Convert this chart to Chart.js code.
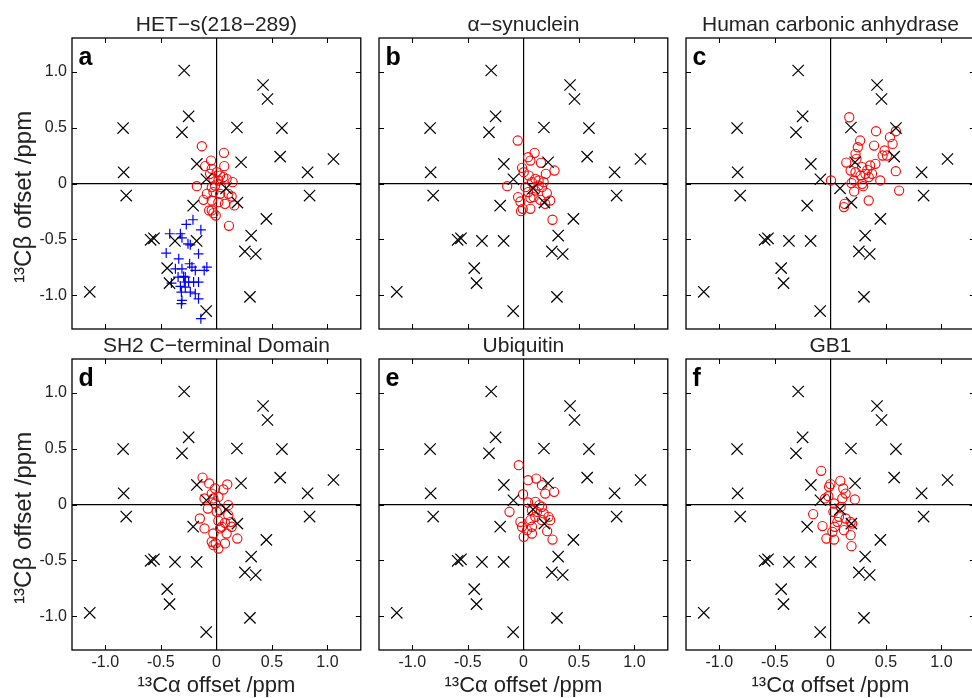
<!DOCTYPE html>
<html>
<head>
<meta charset="utf-8">
<script src="https://cdn.jsdelivr.net/npm/chart.js@4.4.1/dist/chart.umd.min.js"></script>
<style>
  html, body { margin: 0; padding: 0; background: #fff; width: 972px; height: 698px; overflow: hidden; }
  .panel { position: absolute; }
</style>
</head>
<body>
<div class="panel" style="left:0px;top:0px"><canvas id="pa" width="370" height="378"></canvas></div>
<div class="panel" style="left:307px;top:0px"><canvas id="pb" width="370" height="378"></canvas></div>
<div class="panel" style="left:614px;top:0px"><canvas id="pc" width="370" height="378"></canvas></div>
<div class="panel" style="left:0px;top:321px"><canvas id="pd" width="370" height="378"></canvas></div>
<div class="panel" style="left:307px;top:321px"><canvas id="pe" width="370" height="378"></canvas></div>
<div class="panel" style="left:614px;top:321px"><canvas id="pf" width="370" height="378"></canvas></div>
<script>
// Panel text
var panelTitles = ['HET\u2212s(218\u2212289)', '\u03b1\u2212synuclein', 'Human carbonic anhydrase',
                   'SH2 C\u2212terminal Domain', 'Ubiquitin', 'GB1'];
var panelLetters = ['a', 'b', 'c', 'd', 'e', 'f'];
var xTitle = '\u00b9\u00b3C\u03b1 offset /ppm';
var yTitle = '\u00b9\u00b3C\u03b2 offset /ppm    ';  // trailing spaces push the label down a bit, like the original

// Ticks (both axes)
var tickValues = [-1, -0.5, 0, 0.5, 1];
var tickLabels = ['-1.0', '-0.5', '0', '0.5', '1.0'];

// Reference set, black x, same in every panel  [Ca, Cb]
var refPoints = [[-0.29,1.01],[0.42,0.88],[0.46,0.755],[-0.25,0.60],[-0.84,0.495],[-0.31,0.457],
  [0.185,0.50],[0.59,0.495],[0.574,0.24],[1.054,0.219],[0.222,0.19],[-0.176,0.175],[-0.835,0.10],
  [0.821,0.10],[-0.812,-0.108],[0.839,-0.108],[-0.09,0.038],[0.087,-0.043],[0.189,-0.171],
  [-0.209,-0.198],[0.45,-0.316],[0.313,-0.465],[0.256,-0.607],[0.354,-0.63],[-0.592,-0.503],
  [-0.562,-0.49],[-0.373,-0.513],[-0.178,-0.513],[-0.443,-0.756],[-0.422,-0.89],[0.302,-1.013],
  [-1.14,-0.968],[-0.092,-1.14]];

// a: HET-s
var hetsRed = [[-0.131,0.333],[0.068,0.274],[-0.048,0.205],[-0.101,0.155],[0.071,0.155],[-0.042,0.131],
  [0.003,0.101],[0.033,0.071],[0.063,0.057],[-0.027,0.042],[0.018,0.027],[0.092,0.042],[0.146,0.012],
  [-0.176,-0.024],[-0.042,-0.033],[0.042,-0.033],[-0.027,-0.077],[0.033,-0.092],[0.107,-0.092],
  [0.137,-0.116],[-0.116,-0.146],[-0.042,-0.152],[0.018,-0.167],[0.077,-0.182],[0.161,-0.196],
  [-0.065,-0.241],[-0.027,-0.265],[-0.006,-0.286],[-0.042,-0.241],[0.113,-0.378],[-0.086,-0.092],
  [-0.012,-0.018],[-0.057,0.086]];
var hetsBlue = [[-0.211,-0.324],[-0.271,-0.366],[-0.140,-0.414],[-0.420,-0.449],[-0.324,-0.449],
  [-0.310,-0.485],[-0.256,-0.539],[-0.235,-0.548],[-0.452,-0.622],[-0.161,-0.628],[-0.339,-0.673],
  [-0.241,-0.717],[-0.220,-0.747],[-0.086,-0.747],[-0.369,-0.762],[-0.310,-0.762],[-0.190,-0.777],
  [-0.110,-0.777],[-0.345,-0.836],[-0.280,-0.836],[-0.250,-0.881],[-0.205,-0.881],[-0.161,-0.881],
  [-0.405,-0.890],[-0.324,-0.920],[-0.280,-0.926],[-0.315,-0.970],[-0.235,-0.970],[-0.190,-0.985],
  [-0.161,-1.030],[-0.310,-1.045],[-0.315,-1.074],[-0.140,-1.208],[-0.295,-0.830],[-0.289,-0.880]];

// b: alpha-synuclein
var synRed = [[-0.051,0.384],[0.101,0.274],[0.042,0.235],[0.063,0.205],[0.158,0.185],[-0.012,0.140],
  [0.202,0.086],[0.280,0.116],[0.003,0.101],[0.048,0.071],[0.107,0.042],[0.137,0.027],[0.077,0.012],
  [-0.146,-0.024],[0.167,-0.033],[0.107,-0.063],[0.211,-0.086],[0.042,-0.077],[-0.048,-0.122],
  [0.063,-0.128],[0.152,-0.146],[0.241,-0.152],[-0.027,-0.161],[0.196,-0.182],[-0.006,-0.226],
  [0.063,-0.226],[-0.021,-0.247],[0.262,-0.324],[0.018,-0.033],[0.137,-0.018],[0.182,0.012],
  [0.092,-0.122]];

// c: human carbonic anhydrase
var hcaRed = [[0.170,0.592],[0.411,0.467],[0.589,0.467],[0.268,0.384],[0.536,0.414],[0.560,0.354],
  [0.393,0.339],[0.247,0.324],[0.488,0.295],[0.226,0.265],[0.470,0.250],[0.509,0.250],[0.143,0.187],
  [0.405,0.176],[0.357,0.161],[0.286,0.146],[0.182,0.116],[0.226,0.101],[0.315,0.086],[0.375,0.086],
  [0.589,0.110],[0.271,0.071],[0.345,0.057],[0.449,0.027],[0.006,0.027],[0.190,0.003],[0.286,-0.003],
  [0.295,-0.024],[0.214,-0.071],[0.619,-0.063],[0.345,-0.152],[0.128,-0.182],[0.122,-0.211],
  [0.235,0.220],[0.211,0.027],[0.333,0.122]];

// d: SH2 C-terminal domain
var sh2Red = [[-0.125,0.241],[-0.065,0.188],[0.098,0.179],[-0.012,0.143],[0.063,0.134],[-0.107,0.054],
  [-0.027,0.054],[0.018,0.068],[-0.077,-0.036],[0.033,-0.051],[0.107,-0.006],[0.107,-0.095],
  [-0.149,-0.125],[0.018,-0.146],[0.077,-0.164],[0.131,-0.155],[0.137,-0.199],[-0.107,-0.214],
  [0.033,-0.214],[0.092,-0.259],[0.188,-0.304],[-0.027,-0.259],[-0.042,-0.333],[-0.006,-0.348],
  [0.018,-0.393],[0.077,-0.348],[-0.027,-0.363],[0.003,-0.065],[-0.012,0.009],[-0.042,0.098],
  [0.048,-0.199]];

// e: ubiquitin
var ubqRed = [[-0.042,0.351],[0.042,0.217],[0.116,0.232],[0.167,0.173],[0.196,0.098],[0.277,0.113],
  [-0.003,0.092],[0.042,0.018],[0.107,0.024],[0.143,-0.006],[-0.125,-0.065],[0.077,-0.051],
  [0.122,-0.065],[0.182,-0.080],[0.226,-0.110],[0.241,-0.140],[-0.027,-0.155],[0.063,-0.140],
  [-0.012,-0.199],[0.077,-0.199],[0.214,-0.238],[0.003,-0.289],[0.077,-0.259],[0.262,-0.313],
  [0.033,-0.229],[0.167,-0.021],[0.107,-0.110],[0.167,-0.140]];

// f: GB1
var gb1Red = [[-0.083,0.301],[0.0,0.182],[0.089,0.211],[0.116,0.143],[0.137,0.098],[0.220,0.045],
  [-0.018,0.074],[-0.048,0.054],[-0.155,-0.086],[0.033,0.009],[0.092,-0.021],[0.027,-0.065],
  [0.077,-0.110],[0.137,-0.125],[0.196,-0.170],[-0.071,-0.193],[0.039,-0.199],[-0.036,-0.304],
  [0.033,-0.313],[0.182,-0.274],[0.190,-0.372],[0.018,-0.244],[0.122,-0.229],[-0.012,0.158],
  [0.107,0.054],[0.182,-0.155],[0.063,-0.155]];

var panelRed = [hetsRed, synRed, hcaRed, sh2Red, ubqRed, gb1Red];
var canvasIds = ['pa', 'pb', 'pc', 'pd', 'pe', 'pf'];

var axisMin = -1.3, axisMax = 1.3;
var textColor = '#222';
var fontName = '"Liberation Sans", Arial, Helvetica, sans-serif';

function toXY(list) {
  return list.map(function (p) { return {x: p[0], y: p[1]}; });
}

// box + inward ticks on all four sides, and the panel letter
var framePlugin = {
  id: 'frame',
  afterDraw: function (chart, args, opts) {
    var ctx = chart.ctx, a = chart.chartArea;
    var xs = chart.scales.x, ys = chart.scales.y;
    var tl = 5;
    ctx.save();
    ctx.strokeStyle = '#000';
    ctx.lineWidth = 1.3;
    ctx.strokeRect(a.left, a.top, a.right - a.left, a.bottom - a.top);
    ctx.lineWidth = 1;
    ctx.beginPath();
    tickValues.forEach(function (v) {
      var px = Math.round(xs.getPixelForValue(v)) + 0.5;
      ctx.moveTo(px, a.bottom); ctx.lineTo(px, a.bottom - tl);
      ctx.moveTo(px, a.top); ctx.lineTo(px, a.top + tl);
      var py = Math.round(ys.getPixelForValue(v)) + 0.5;
      ctx.moveTo(a.left, py); ctx.lineTo(a.left + tl, py);
      ctx.moveTo(a.right, py); ctx.lineTo(a.right - tl, py);
    });
    ctx.stroke();
    ctx.fillStyle = '#000';
    ctx.font = 'bold 25px ' + fontName;
    ctx.textBaseline = 'alphabetic';
    ctx.textAlign = 'left';
    ctx.fillText(opts.letter, a.left + 6.5, a.top + 26.7);
    ctx.restore();
  }
};

function makePanel(i) {
  var row = Math.floor(i / 3), col = i % 3;
  var showX = row === 1, showY = col === 0;
  var datasets = [
    {
      data: toXY(refPoints),
      pointStyle: 'crossRot',
      pointRadius: 8,
      borderColor: '#000',
      borderWidth: 1.2,
      showLine: false
    },
    {
      data: toXY(panelRed[i]),
      pointStyle: 'circle',
      pointRadius: 4.6,
      borderColor: '#ff0000',
      backgroundColor: 'rgba(0,0,0,0)',
      borderWidth: 1.1,
      showLine: false
    }
  ];
  if (i === 0) {
    datasets.push({
      data: toXY(hetsBlue),
      pointStyle: 'cross',
      pointRadius: 5,
      borderColor: '#0000ff',
      borderWidth: 1.2,
      showLine: false
    });
  }
  var zeroGrid = {
    drawTicks: false,
    lineWidth: 1.2,
    color: function (c) { return c.tick && c.tick.value === 0 ? '#000' : 'rgba(0,0,0,0)'; }
  };
  return new Chart(document.getElementById(canvasIds[i]), {
    type: 'scatter',
    data: {datasets: datasets},
    plugins: [framePlugin],
    options: {
      responsive: false,
      animation: false,
      devicePixelRatio: 1,
      layout: {padding: {left: 0, right: 7, top: 0, bottom: 0}},
      plugins: {
        legend: {display: false},
        tooltip: {enabled: false},
        title: {
          display: true,
          fullSize: false,
          text: panelTitles[i],
          color: textColor,
          font: {family: fontName, size: 21, weight: 'normal', lineHeight: 1.2},
          padding: {top: 12.4, bottom: 0.4}
        },
        frame: {letter: panelLetters[i]}
      },
      scales: {
        x: {
          type: 'linear',
          min: axisMin,
          max: axisMax,
          afterBuildTicks: function (s) { s.ticks = tickValues.map(function (v) { return {value: v}; }); },
          afterFit: function (s) { s.height = 49; },
          border: {display: false},
          grid: zeroGrid,
          ticks: {
            display: showX,
            padding: 3,
            color: textColor,
            maxRotation: 0,
            font: {family: fontName, size: 16},
            callback: function (v) { return tickLabels[tickValues.indexOf(v)]; }
          },
          title: {
            display: showX,
            text: xTitle,
            color: textColor,
            font: {family: fontName, size: 22, lineHeight: 1.2},
            padding: {top: 0, bottom: 0}
          }
        },
        y: {
          type: 'linear',
          min: axisMin,
          max: axisMax,
          afterBuildTicks: function (s) { s.ticks = tickValues.map(function (v) { return {value: v}; }); },
          afterFit: function (s) { s.width = 72; },
          border: {display: false},
          grid: zeroGrid,
          ticks: {
            display: showY,
            padding: 5,
            color: textColor,
            font: {family: fontName, size: 16},
            callback: function (v) { return tickLabels[tickValues.indexOf(v)]; }
          },
          title: {
            display: showY,
            text: yTitle,
            color: textColor,
            font: {family: fontName, size: 24, lineHeight: 1.2},
            padding: {top: 10, bottom: 0}
          }
        }
      }
    }
  });
}

for (var i = 0; i < 6; i++) {
  makePanel(i);
}
</script>
</body>
</html>
